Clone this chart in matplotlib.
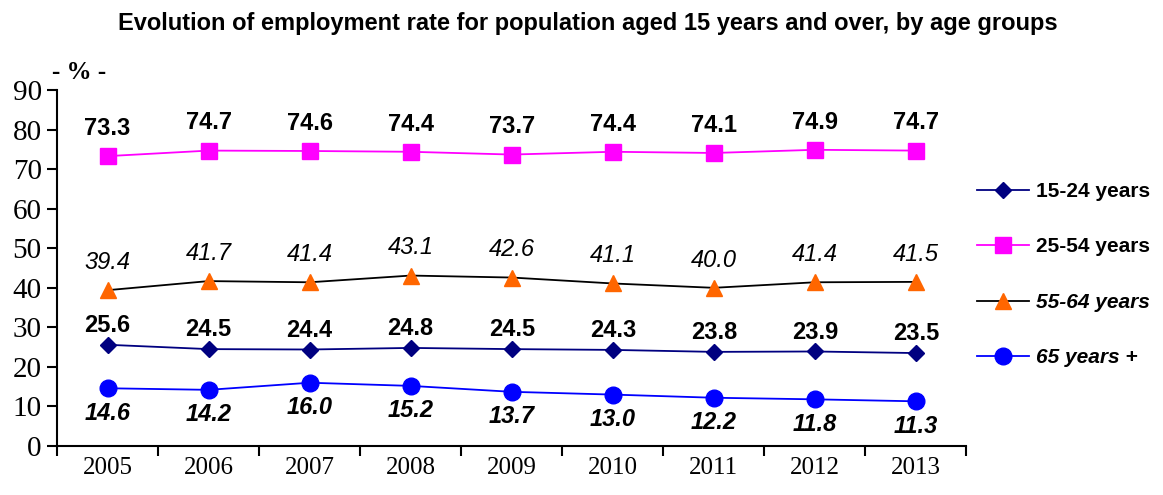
import matplotlib.pyplot as plt
from matplotlib.lines import Line2D

years = ["2005", "2006", "2007", "2008", "2009", "2010", "2011", "2012", "2013"]
age_15_24 = [25.6, 24.5, 24.4, 24.8, 24.5, 24.3, 23.8, 23.9, 23.5]
age_25_54 = [73.3, 74.7, 74.6, 74.4, 73.7, 74.4, 74.1, 74.9, 74.7]
age_55_64 = [39.4, 41.7, 41.4, 43.1, 42.6, 41.1, 40.0, 41.4, 41.5]
age_65_plus = [14.6, 14.2, 16.0, 15.2, 13.7, 13.0, 12.2, 11.8, 11.3]

sans = ["Liberation Sans", "DejaVu Sans"]
serif = ["Liberation Serif", "DejaVu Serif"]

fig = plt.figure(figsize=(11.63, 4.95), dpi=100)
ax = fig.add_axes([0.049, 0.099, 0.782, 0.719])

x = list(range(len(years)))

# series: values, line colour, marker, marker colour, size, label offset, label style
series = [
    (age_15_24, "#000080", "D", "#000080", 8, 14, "normal", "bold", "15-24 years"),
    (age_25_54, "#FF00FF", "s", "#FF00FF", 12, 20, "normal", "bold", "25-54 years"),
    (age_55_64, "#000000", "^", "#FF6600", 11, 20, "italic", "normal", "55-64 years"),
    (age_65_plus, "#0000FF", "o", "#0000FF", 12, -18, "italic", "bold", "65 years +"),
]

handles = []
for vals, lc, mk, mc, ms, dy, st, wt, lab in series:
    ax.plot(x, vals, color=lc, lw=1.3, marker=mk, markersize=ms,
            markerfacecolor=mc, markeredgecolor=mc, zorder=3)
    for xi, v in zip(x, vals):
        ax.annotate(f"{v:.1f}", (xi, v), xytext=(0, dy), textcoords="offset points",
                    ha="center", va="center", fontsize=17, fontstyle=st,
                    fontweight=wt, family=sans)
    handles.append(Line2D([], [], color=lc, lw=1.3, marker=mk, markersize=ms,
                          markerfacecolor=mc, markeredgecolor=mc))

ax.set_xlim(-0.5, len(years) - 0.5)
ax.set_ylim(0, 90)
ax.set_yticks(range(0, 91, 10))
ax.set_xticks([i - 0.5 for i in range(len(years) + 1)], minor=False)
ax.set_xticklabels([])
ax.set_xticks(x, minor=True)
ax.set_xticklabels(years, minor=True, family=serif, fontsize=18)
ax.tick_params(axis="x", which="minor", length=0, pad=8)
ax.tick_params(axis="x", which="major", length=7, width=1.5, direction="out")
ax.tick_params(axis="y", length=7, width=1.5, direction="out", pad=4)
for t in ax.get_yticklabels():
    t.set_family(serif)
    t.set_fontsize(21)

ax.spines["top"].set_visible(False)
ax.spines["right"].set_visible(False)
ax.spines["left"].set_linewidth(1.5)
ax.spines["bottom"].set_linewidth(1.5)

leg_labels = [s[-1] for s in series]
leg = fig.legend(handles, leg_labels, loc="center left", bbox_to_anchor=(0.84, 0.445),
                 frameon=False, labelspacing=1.75, handlelength=2.5, handletextpad=0.35,
                 borderpad=0, borderaxespad=0,
                 prop={"family": sans, "size": 15, "weight": "bold"})
for t, s in zip(leg.get_texts(), series):
    t.set_fontstyle(s[6])

fig.text(0.505, 0.952, "Evolution of employment rate for population aged 15 years and over, by age groups",
         ha="center", va="center", fontsize=17, fontweight="bold", family=sans)
fig.text(0.068, 0.853, "- % -", ha="center", va="center", fontsize=18,
         fontweight="bold", family=serif)

fig.savefig("out.png", dpi=100)
